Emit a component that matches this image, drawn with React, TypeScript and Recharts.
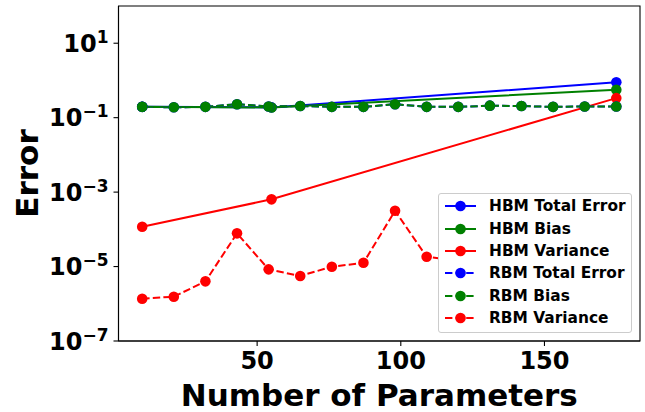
import React from "react";
import { LineChart, Line, XAxis, YAxis, ReferenceArea } from "recharts";

// parameter counts
const hbmParams = [10, 55, 175];
const rbmParams = [10, 21, 32, 43, 54, 65, 76, 87, 98, 109, 120, 131, 142, 153, 164, 175];

// HBM errors
const hbmTotal = [0.196, 0.189, 0.89];
const hbmBias = [0.196, 0.188, 0.56];
const hbmVariance = [1.17e-4, 6.4e-4, 0.335];

// RBM errors
const rbmTotal = [0.195, 0.19, 0.195, 0.23, 0.2, 0.205, 0.195, 0.195, 0.23, 0.195, 0.195, 0.21, 0.205, 0.195, 0.2, 0.2];
const rbmBias = [0.195, 0.19, 0.195, 0.23, 0.2, 0.205, 0.195, 0.195, 0.23, 0.195, 0.195, 0.21, 0.205, 0.195, 0.2, 0.2];
const rbmVariance = [1.37e-6, 1.55e-6, 4.0e-6, 7.8e-5, 8.4e-6, 5.6e-6, 9.9e-6, 1.26e-5, 3.15e-4, 1.83e-5, 1.45e-5, 1.2e-5, 2.0e-5, 1.5e-5, 1.1e-5, 1.8e-5];

const xTicks = [50, 100, 150];
const yTicks = [1e-7, 1e-5, 1e-3, 1e-1, 10];

const FONT = "'DejaVu Sans', sans-serif";
const BLUE = "#0000ff";
const GREEN = "#008000";
const RED = "#ff0000";

const toPoints = (xs: number[], ys: number[]) => xs.map((x, i) => ({ x, y: ys[i] }));

const series = [
  { name: "HBM Total Error", data: toPoints(hbmParams, hbmTotal), color: BLUE, dashed: false },
  { name: "HBM Bias", data: toPoints(hbmParams, hbmBias), color: GREEN, dashed: false },
  { name: "HBM Variance", data: toPoints(hbmParams, hbmVariance), color: RED, dashed: false },
  { name: "RBM Total Error", data: toPoints(rbmParams, rbmTotal), color: BLUE, dashed: true },
  { name: "RBM Bias", data: toPoints(rbmParams, rbmBias), color: GREEN, dashed: true },
  { name: "RBM Variance", data: toPoints(rbmParams, rbmVariance), color: RED, dashed: true },
];

const DASH = "7.4 3.2";

function YTick({ x, y, payload }: any) {
  const exp = Math.round(Math.log10(payload.value));
  const sup = exp < 0 ? "\u2212" + Math.abs(exp) : String(exp);
  return (
    <text x={x} y={y} dy={8.7} textAnchor="end" fontFamily={FONT} fontWeight="bold" fontSize={24} fill="#000">
      10
      <tspan fontSize={17} dy={-9}>{sup}</tspan>
    </text>
  );
}

function XTick({ x, y, payload }: any) {
  return (
    <text x={x} y={y} dy={18} textAnchor="middle" fontFamily={FONT} fontWeight="bold" fontSize={24} fill="#000">
      {payload.value}
    </text>
  );
}

function YLabel({ viewBox }: any) {
  const cx = viewBox.x + 38;
  const cy = viewBox.y + viewBox.height / 2;
  return (
    <text x={cx} y={cy} transform={`rotate(-90 ${cx} ${cy})`} textAnchor="middle" fontFamily={FONT} fontWeight="bold" fontSize={31} fill="#000">
      Error
    </text>
  );
}

function XLabel({ viewBox }: any) {
  return (
    <text x={viewBox.x + viewBox.width / 2} y={viewBox.y + viewBox.height - 6} textAnchor="middle" fontFamily={FONT} fontWeight="bold" fontSize={31} fill="#000">
      Number of Parameters
    </text>
  );
}

function LegendBox() {
  return (
    <div
      style={{
        position: "absolute",
        left: 438,
        top: 193,
        width: 194,
        height: 140,
        border: "1px solid #cccccc",
        borderRadius: 3,
        background: "#fff",
        boxSizing: "border-box",
        paddingTop: 1,
      }}
    >
      {series.map((s) => (
        <div key={s.name} style={{ display: "flex", alignItems: "center", height: 22.4 }}>
          <svg width={50} height={22} style={{ flex: "none" }}>
            <line x1={6} y1={11} x2={37} y2={11} stroke={s.color} strokeWidth={2} strokeDasharray={s.dashed ? DASH : undefined} />
            <circle cx={21.5} cy={11} r={5.3} fill={s.color} />
          </svg>
          <span style={{ fontFamily: FONT, fontWeight: "bold", fontSize: 15.4, color: "#000", whiteSpace: "nowrap" }}>{s.name}</span>
        </div>
      ))}
    </div>
  );
}

export default function App() {
  return (
    <div style={{ position: "absolute", left: 0, top: 0, width: 645, height: 412, background: "#fff" }}>
      <LineChart width={645} height={412} margin={{ top: 6, right: 5, bottom: 0, left: 0 }}>
        <XAxis
          type="number"
          dataKey="x"
          domain={[1.75, 183.25]}
          ticks={xTicks}
          allowDataOverflow
          height={71}
          tick={<XTick />}
          tickSize={5}
          tickMargin={5}
          axisLine={{ stroke: "#000", strokeWidth: 1.1 }}
          tickLine={{ stroke: "#000", strokeWidth: 1.1 }}
          label={<XLabel />}
        />
        <YAxis
          type="number"
          scale="log"
          domain={[1e-7, 100]}
          ticks={yTicks}
          allowDataOverflow
          width={118.5}
          tick={<YTick />}
          tickSize={5}
          tickMargin={5}
          axisLine={{ stroke: "#000", strokeWidth: 1.1 }}
          tickLine={{ stroke: "#000", strokeWidth: 1.1 }}
          label={<YLabel />}
        />
        <ReferenceArea x1={1.75} x2={183.25} y1={1e-7} y2={100} fill="none" stroke="#000" strokeWidth={1.1} />
        {series.map((s) => (
          <Line
            key={s.name}
            data={s.data}
            dataKey="y"
            name={s.name}
            type="linear"
            stroke={s.color}
            strokeWidth={2}
            strokeDasharray={s.dashed ? DASH : undefined}
            dot={{ r: 5.3, fill: s.color, stroke: "none", strokeDasharray: "" }}
            activeDot={false}
            isAnimationActive={false}
          />
        ))}
      </LineChart>
      <LegendBox />
    </div>
  );
}
